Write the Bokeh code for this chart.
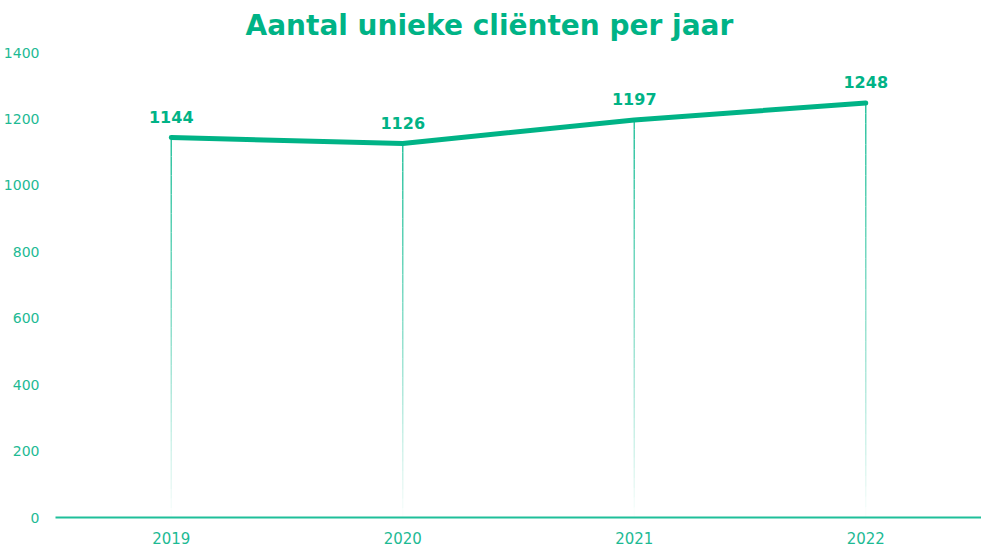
from bokeh.plotting import figure
from bokeh.models import ColumnDataSource, LabelSet, Range1d, FactorRange, FixedTicker
from bokeh.core.properties import value
from bokeh.embed import file_html
from bokeh.resources import INLINE

years = ["2019", "2020", "2021", "2022"]
clients = [1144, 1126, 1197, 1248]
y_ticks = [0, 200, 400, 600, 800, 1000, 1200, 1400]
title_text = "Aantal unieke cliënten per jaar"

LINE = "#00b386"
TEXT = "#1dba94"
FONT = "DejaVu Sans"

p = figure(width=981, height=549, x_range=FactorRange(*years, range_padding=0),
           y_range=Range1d(0, 1400), output_backend="svg", toolbar_location=None,
           min_border_left=55, min_border_right=0, min_border_top=51, min_border_bottom=32)
p.outline_line_color = None
p.background_fill_color = "white"
p.border_fill_color = "white"
p.grid.visible = False

p.title.text = title_text
p.title.align = "left"
p.title.offset = 190
p.title.vertical_align = "top"
p.title.standoff = 17
p.title.text_font = FONT
p.title.text_font_size = "28px"
p.title.text_font_style = "bold"
p.title.text_color = LINE

# gradient drop lines: stacked segments with fading alpha
n = 40
xs, y0s, y1s, alphas = [], [], [], []
for yr, v in zip(years, clients):
    for i in range(n):
        xs.append(yr)
        y0s.append(v * i / n)
        y1s.append(v * (i + 1) / n)
        alphas.append(((i + 0.5) / n) ** 0.9)
p.segment(x0=xs, y0=y0s, x1=xs, y1=y1s, line_color="#2cc39f", line_width=1.5, line_alpha=alphas)

src = ColumnDataSource(dict(x=years, y=clients, t=[str(c) for c in clients]))
p.line("x", "y", source=src, line_color=LINE, line_width=5, line_cap="round", line_join="round")

labels = LabelSet(x="x", y="y", text="t", source=src, text_align="center", text_baseline="bottom",
                  y_offset=15, text_font=value(FONT), text_font_size="16px", text_font_style="bold",
                  text_color=LINE)
p.add_layout(labels)

p.yaxis.ticker = FixedTicker(ticks=y_ticks)
p.yaxis.axis_line_color = None
p.yaxis.major_tick_line_color = None
p.yaxis.minor_tick_line_color = None
p.yaxis.major_label_standoff = 10
p.yaxis.major_label_text_font = FONT
p.yaxis.major_label_text_font_size = "14px"
p.yaxis.major_label_text_color = TEXT

p.xaxis.axis_line_color = "#1fbf9a"
p.xaxis.axis_line_width = 2
p.xaxis.major_tick_line_color = None
p.xaxis.minor_tick_line_color = None
p.xaxis.major_label_standoff = 8
p.xaxis.major_label_text_font = FONT
p.xaxis.major_label_text_font_size = "15px"
p.xaxis.major_label_text_color = TEXT

open("out.html", "w").write(file_html(p, INLINE))
